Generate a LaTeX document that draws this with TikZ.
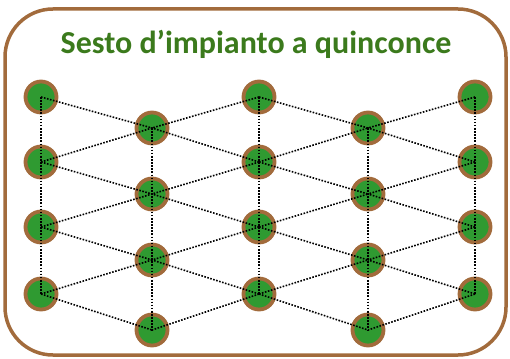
\documentclass[tikz,border=0pt]{standalone}
\usepackage{fontspec}
\setmainfont{Carlito}
\definecolor{brownring}{HTML}{A26B3C}
\definecolor{leafgreen}{HTML}{2F9A31}
\definecolor{titlegreen}{HTML}{3B7A1C}
\tikzset{
  tree/.style={circle, draw=brownring, line width=3.8pt, fill=leafgreen, minimum size=31pt, inner sep=0pt},
  rowline/.style={black, line width=1.6pt, dash pattern=on 1.6pt off 1.5pt},
  frame/.style={draw=brownring, line width=3.5pt, rounded corners=48pt}
}
\begin{document}
\begin{tikzpicture}[x=1pt,y=-1pt]
\useasboundingbox (0,0) rectangle (510,358);
\draw[frame] (5,9) rectangle (506,355);
\node[text=titlegreen, font=\bfseries\fontsize{32}{36}\selectfont, anchor=base] (title) at (256,54) {Sesto d’impianto a quinconce};
% odd columns
\foreach \c/\x in {1/41,3/259,5/475}{
  \foreach \r/\y in {1/97,2/162,3/227,4/294}{
    \node[tree] (n\c\r) at (\x,\y) {};
  }
}
% even columns
\foreach \c/\x in {2/152,4/368}{
  \foreach \r/\y in {1/128,2/194,3/260,4/330}{
    \node[tree] (n\c\r) at (\x,\y) {};
  }
}
% vertical lines
\foreach \c in {1,...,5}{
  \draw[rowline] (n\c1.center) -- (n\c2.center) -- (n\c3.center) -- (n\c4.center);
}
% diagonals
\foreach \o/\e in {1/2,3/2,3/4,5/4}{
  \foreach \r in {1,...,4}{
    \draw[rowline] (n\o\r.center) -- (n\e\r.center);
  }
  \foreach \r/\s in {2/1,3/2,4/3}{
    \draw[rowline] (n\o\r.center) -- (n\e\s.center);
  }
}
\end{tikzpicture}
\end{document}
